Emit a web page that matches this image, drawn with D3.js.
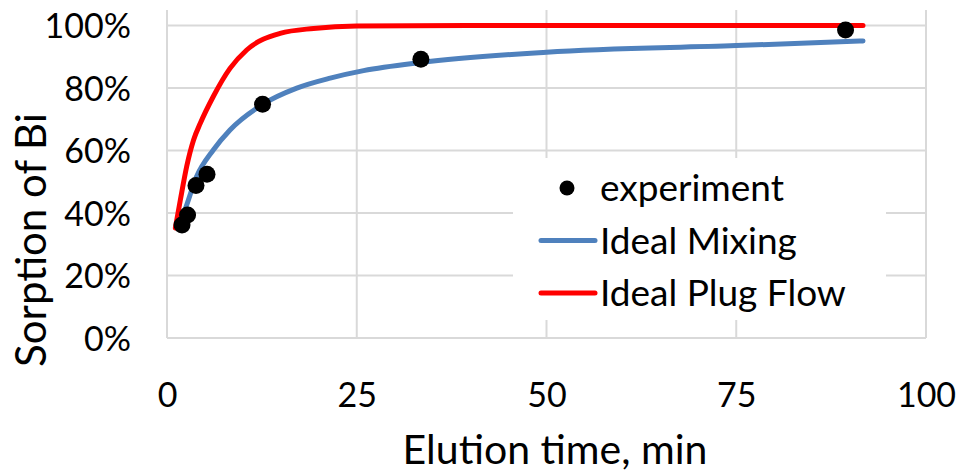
<!DOCTYPE html>
<html>
<head>
<meta charset="utf-8">
<script src="https://cdn.jsdelivr.net/npm/d3@7"></script>
<style>
  body { margin: 0; background: #fff; }
  text { font-family: Lato, "Open Sans", sans-serif; fill: #000; }
</style>
</head>
<body>
<div id="chart"></div>
<script>
//Experimental points (elution time in min, sorption fraction)
var expTime = [1.98, 2.71, 3.82, 5.27, 12.59, 33.45, 89.4];
var expSorp = [0.362, 0.394, 0.488, 0.524, 0.748, 0.892, 0.986];

//Ideal mixing model curve
var mixTime = [1.32, 2.2, 3.9, 6.1, 8.3, 12.6, 17.1, 21.5, 25.9, 33.4, 50, 75, 91.7];
var mixSorp = [0.353, 0.400, 0.517, 0.602, 0.666, 0.748, 0.800, 0.832, 0.856, 0.882, 0.915, 0.936, 0.951];

//Ideal plug flow model curve
var plugTime = [1.1, 1.76, 2.6, 3.5, 4.4, 6.1, 8.3, 10.5, 14.9, 19.3, 25, 40, 91.7];
var plugSorp = [0.352, 0.442, 0.55, 0.634, 0.688, 0.773, 0.863, 0.922, 0.975, 0.991, 0.999, 1.0, 1.0];

//Axis ticks
var xTicks = [0, 25, 50, 75, 100];
var yTicks = [0, 0.2, 0.4, 0.6, 0.8, 1.0];

//Legend entries
var legendLabels = ["experiment", "Ideal Mixing", "Ideal Plug Flow"];

var W = 961, H = 475;
var margin = { top: 10, left: 167, right: 35, bottom: 137 },
    width = W - margin.left - margin.right,
    height = H - margin.top - margin.bottom;

var blue = "#4f81bd", red = "#ff0000", grid = "#d9d9d9";

var svg = d3.select("#chart").append("svg")
    .attr("width", W)
    .attr("height", H);

var g = svg.append("g")
    .attr("transform", "translate(" + margin.left + "," + margin.top + ")");

var x = d3.scaleLinear().domain([0, 100]).range([0, width]);
var y = d3.scaleLinear().domain([0, 1.05]).range([height, 0]);

//Gridlines
g.append("g").selectAll("line.h")
    .data(yTicks)
    .enter().append("line")
    .attr("x1", 0).attr("x2", width)
    .attr("y1", function (d) { return y(d); })
    .attr("y2", function (d) { return y(d); })
    .attr("stroke", grid).attr("stroke-width", 2);

g.append("g").selectAll("line.v")
    .data(xTicks)
    .enter().append("line")
    .attr("y1", 0).attr("y2", height)
    .attr("x1", function (d) { return x(d); })
    .attr("x2", function (d) { return x(d); })
    .attr("stroke", grid).attr("stroke-width", 2);

//Axes (labels only, Excel style)
var xAxis = g.append("g")
    .attr("transform", "translate(0," + height + ")")
    .call(d3.axisBottom(x).tickValues(xTicks).tickSize(0).tickPadding(69));
xAxis.select(".domain").remove();
xAxis.selectAll("text")
    .attr("dy", null)
    .style("font-size", "34px")
    .style("font-family", "Lato");

var yAxis = g.append("g")
    .call(d3.axisLeft(y).tickValues(yTicks).tickSize(0).tickPadding(36).tickFormat(d3.format(".0%")));
yAxis.select(".domain").remove();
yAxis.selectAll("text")
    .attr("dy", "0.36em")
    .style("font-size", "34px")
    .style("font-family", "Lato");

//Model curves
var line = d3.line()
    .x(function (d) { return x(d[0]); })
    .y(function (d) { return y(d[1]); })
    .curve(d3.curveMonotoneX);

g.append("path")
    .datum(d3.zip(mixTime, mixSorp))
    .attr("d", line)
    .attr("fill", "none")
    .attr("stroke", blue)
    .attr("stroke-width", 5)
    .attr("stroke-linecap", "round");

g.append("path")
    .datum(d3.zip(plugTime, plugSorp))
    .attr("d", line)
    .attr("fill", "none")
    .attr("stroke", red)
    .attr("stroke-width", 5)
    .attr("stroke-linecap", "round");

//Experiment markers
g.append("g").selectAll("circle")
    .data(d3.zip(expTime, expSorp))
    .enter().append("circle")
    .attr("cx", function (d) { return x(d[0]); })
    .attr("cy", function (d) { return y(d[1]); })
    .attr("r", 8.5)
    .attr("fill", "#000");

//Axis titles
svg.append("text")
    .attr("x", 555).attr("y", 464)
    .attr("text-anchor", "middle")
    .style("font-size", "41px")
    .text("Elution time, min");

svg.append("text")
    .attr("transform", "translate(46,240) rotate(-90)")
    .attr("text-anchor", "middle")
    .style("font-size", "42px")
    .text("Sorption of Bi");

//Legend
var legend = svg.append("g").attr("transform", "translate(513,158)");
legend.append("rect")
    .attr("width", 373).attr("height", 162)
    .attr("fill", "#fff");

var item = legend.selectAll("g.item")
    .data(legendLabels)
    .enter().append("g")
    .attr("transform", function (d, i) { return "translate(0," + (30 + i * 52.5) + ")"; });

item.each(function (d, i) {
    var el = d3.select(this);
    if (i === 0) {
        el.append("circle").attr("cx", 54).attr("cy", 0).attr("r", 7.5).attr("fill", "#000");
    } else {
        el.append("line")
            .attr("x1", 28).attr("x2", 82)
            .attr("stroke", i === 1 ? blue : red)
            .attr("stroke-width", 5)
            .attr("stroke-linecap", "round");
    }
    el.append("text")
        .attr("x", 87).attr("y", 13)
        .style("font-size", "37px")
        .text(d);
});
</script>
</body>
</html>
